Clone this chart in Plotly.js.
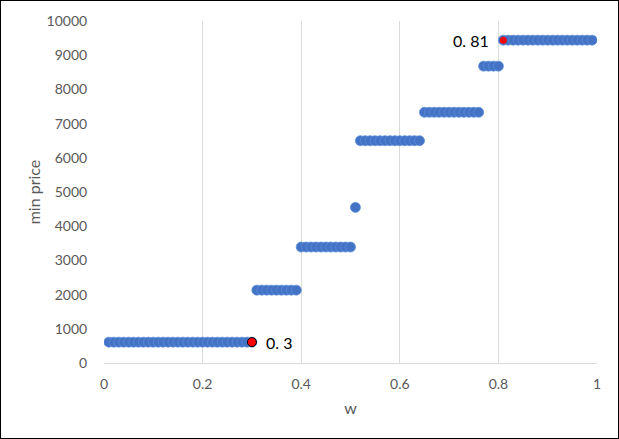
<!DOCTYPE html>
<html><head><meta charset="utf-8">
<script src="https://cdn.plot.ly/plotly-3.0.1.min.js"></script>
<style>html,body{margin:0;padding:0;}#chart{width:619px;height:439px;box-sizing:border-box;border:1px solid #000;}</style>
</head><body><div id="chart"></div>
<script>
// Step levels: [start w, end w, min price]
const stepStarts = [0.01, 0.31, 0.40, 0.51, 0.52, 0.65, 0.77, 0.81];
const stepEnds   = [0.30, 0.39, 0.50, 0.51, 0.64, 0.76, 0.80, 0.99];
const stepPrices = [610, 2130, 3390, 4550, 6500, 7330, 8680, 9440];
const highlightW = [0.30, 0.81];
const highlightPrice = [610, 9440];
const highlightLabels = ['0. 3', '0. 81'];
const xTicks = [0, 0.2, 0.4, 0.6, 0.8, 1];
const xTickText = ['0', '0.2', '0.4', '0.6', '0.8', '1'];

const w = [], price = [];
for (let i = 0; i < stepStarts.length; i++) {
  const a = Math.round(stepStarts[i]*100), b = Math.round(stepEnds[i]*100);
  for (let k = a; k <= b; k++) { w.push(k/100); price.push(stepPrices[i]); }
}

const font = "Lato, 'Open Sans', sans-serif";
const traces = [
  {x: w, y: price, type: 'scatter', mode: 'markers',
   marker: {color: '#4472C4', size: 10, line: {color: '#5B8FDB', width: 0.75}}, hoverinfo: 'skip'},
  {x: [highlightW[0]], y: [highlightPrice[0]], type: 'scatter', mode: 'markers',
   marker: {color: '#FF0000', size: 9, line: {color: '#000', width: 1}}},
  {x: [highlightW[1]], y: [highlightPrice[1]], type: 'scatter', mode: 'markers',
   marker: {color: '#FF0000', size: 7, line: {width: 0}}}
];
const layout = {
  width: 619, height: 439, showlegend: false,
  margin: {l: 103, r: 23, t: 20, b: 77},
  paper_bgcolor: 'rgba(0,0,0,0)', plot_bgcolor: '#fff',
  font: {family: font, size: 14, color: '#595959'},
  xaxis: {range: [0, 1], tickvals: xTicks, ticktext: xTickText, showgrid: true, gridcolor: '#D9D9D9',
    zeroline: false, showline: true, linecolor: '#D9D9D9', ticks: 'outside', ticklen: 8, tickcolor: 'rgba(0,0,0,0)',
    title: {text: 'w', font: {family: font, size: 16, color: '#595959'}, standoff: 12}},
  yaxis: {range: [0, 10000], dtick: 1000, tickformat: 'd', showgrid: false, zeroline: false, showline: false,
    ticks: 'outside', ticklen: 13, tickcolor: 'rgba(0,0,0,0)',
    title: {text: 'min price', font: {family: font, size: 16, color: '#595959'}, standoff: 1}},
  annotations: [
    {x: highlightW[0], y: highlightPrice[0], text: highlightLabels[0], showarrow: false, xanchor: 'left', xshift: 12,
     font: {family: font, size: 16, color: '#000'}},
    {x: highlightW[1], y: highlightPrice[1], text: highlightLabels[1], showarrow: false, xanchor: 'right', xshift: -12,
     font: {family: font, size: 16, color: '#000'}}
  ]
};
Plotly.newPlot('chart', traces, layout, {displayModeBar: false, staticPlot: true});
</script></body></html>
